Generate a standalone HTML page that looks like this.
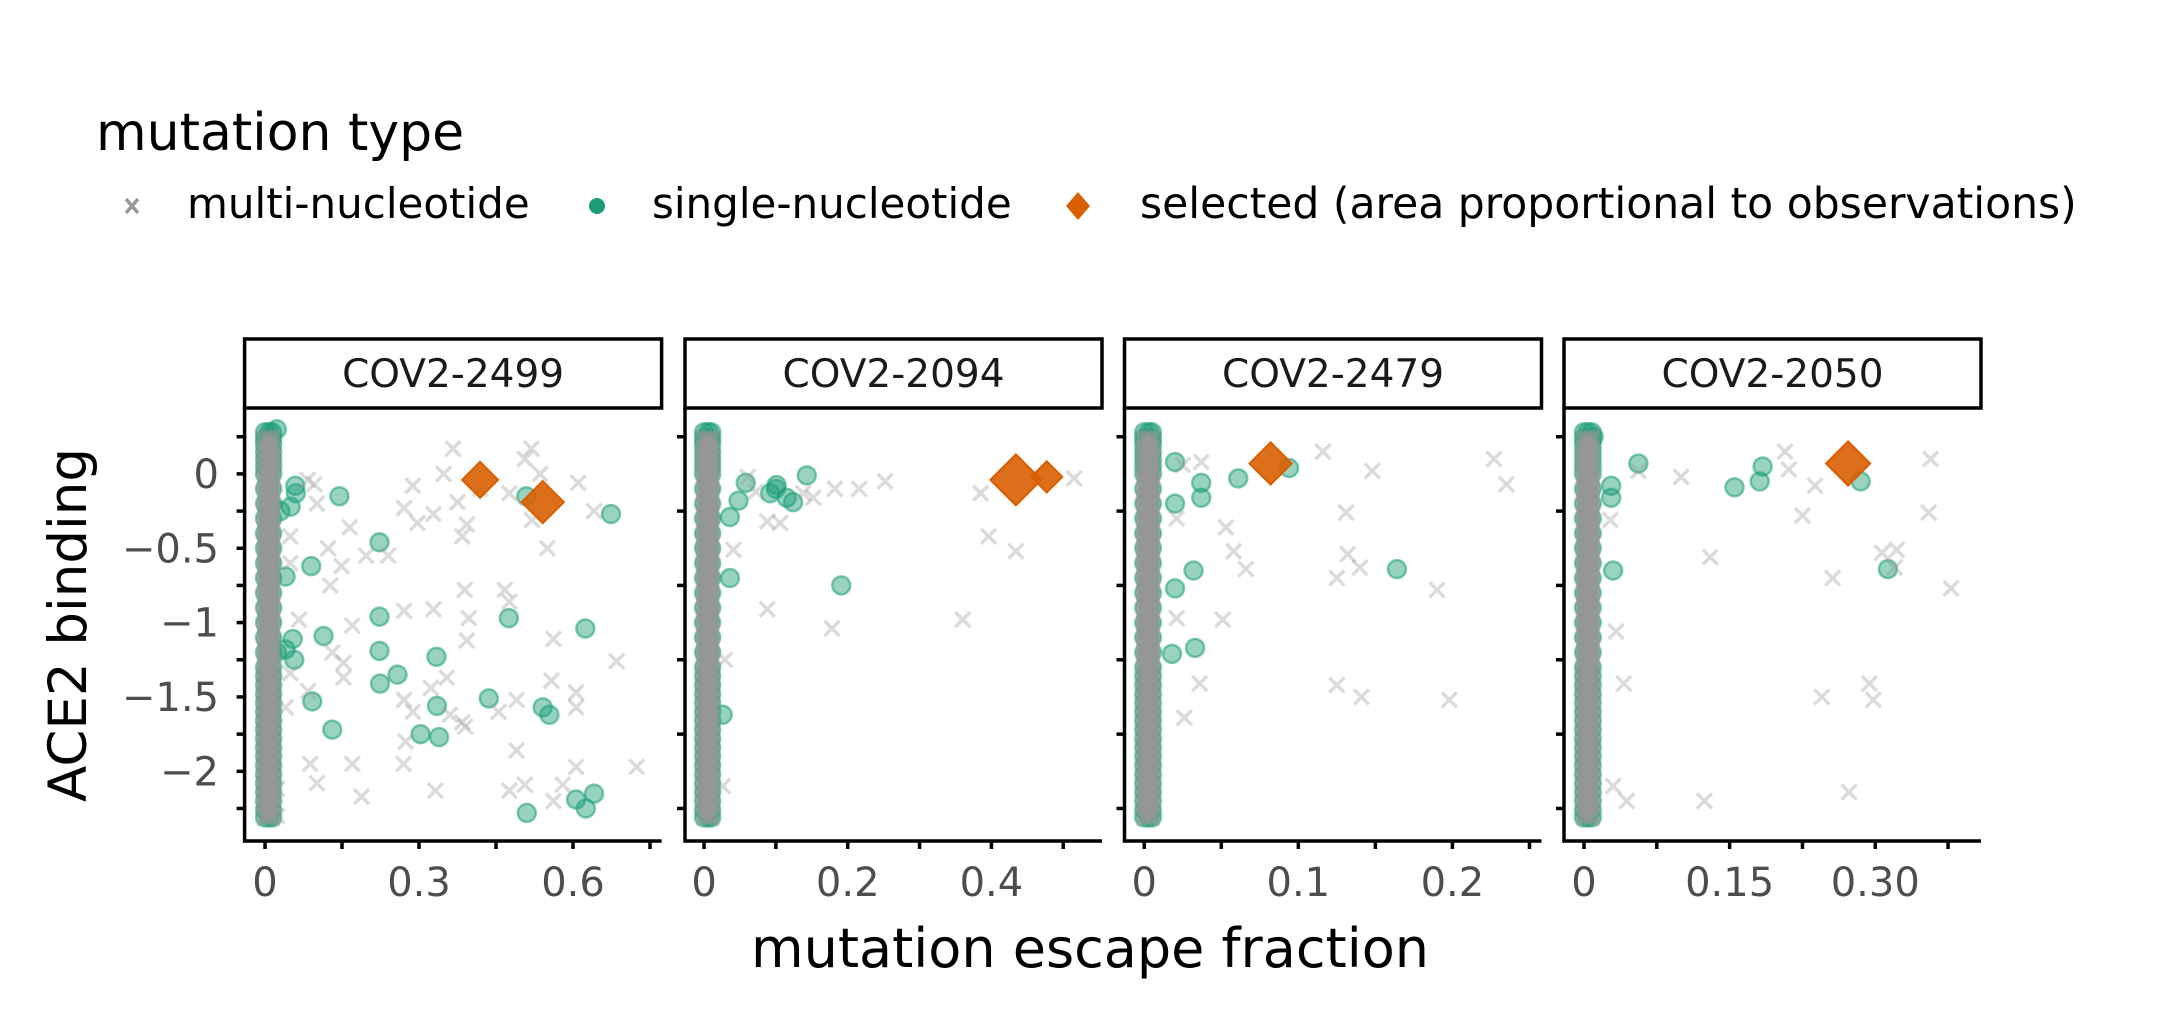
<!DOCTYPE html>
<html><head><meta charset="utf-8">
<style>
html,body{margin:0;padding:0;background:#fff;}
svg{display:block;font-family:"DejaVu Sans","Liberation Sans",sans-serif;}
</style></head>
<body>
<svg id="chart" width="2169" height="1014" viewBox="0 0 2169 1014" xmlns="http://www.w3.org/2000/svg">
  <rect width="2169" height="1014" fill="#fff"/>
  <g>
    <text x="96" y="150" font-size="52" fill="#000">mutation type</text>
    <g>
      <path d="M126,199 L138,213 M138,199 L126,213" stroke="#999" stroke-width="3.5"/>
      <text x="187" y="218" font-size="42">multi-nucleotide</text>
    </g>
    <g>
      <circle cx="597" cy="206" r="8" fill="#1b9e77"/>
      <text x="652" y="218" font-size="42">single-nucleotide</text>
    </g>
    <g>
      <path d="M1078,192 L1090,206 L1078,220 L1066,206 Z" fill="#d95f02"/>
      <text x="1140" y="218" font-size="42.5">selected (area proportional to observations)</text>
    </g>
  </g>
  <text transform="translate(86,625) rotate(-90)" text-anchor="middle" font-size="53">ACE2 binding</text>
  <text x="1090" y="967" text-anchor="middle" font-size="54">mutation escape fraction</text>
  <g id="panels"></g>
</svg>
<script>
// ---- data ----
const panelNames = ["COV2-2499","COV2-2094","COV2-2479","COV2-2050"];
const xMajorTicks = [[0,0.3,0.6],[0,0.2,0.4],[0,0.1,0.2],[0,0.15,0.30]];
const xMajorLabels = [["0","0.3","0.6"],["0","0.2","0.4"],["0","0.1","0.2"],["0","0.15","0.30"]];
const xMinorTicks = [[0.15,0.45,0.75],[0.1,0.3,0.5],[0.05,0.15,0.25],[0.075,0.225,0.375]];
const xDomains = [[-0.0398,0.7726],[-0.0265,0.5539],[-0.0128,0.2578],[-0.0206,0.4089]];
const yTickVals = [0,-0.5,-1,-1.5,-2];
const yTickLabels = ["0","\u22120.5","\u22121","\u22121.5","\u22122"];
const yMinor1 = [0.25,-0.25,-0.75,-1.25,-1.75,-2.25];

// column (near zero escape) binding values
const colYGray = [0.25,0.22,0.19,0.16,0.13,0.1,0.07,0.04,0.01,-0.02,-0.05,-0.08,-0.11,-0.14,-0.17,-0.2,-0.23,-0.26,-0.29,-0.32,-0.35,-0.38,-0.41,-0.44,-0.47,-0.5,-0.53,-0.56,-0.59,-0.62,-0.65,-0.68,-0.71,-0.74,-0.77,-0.8,-0.83,-0.86,-0.89,-0.92,-0.95,-0.98,-1.01,-1.04,-1.07,-1.1,-1.13,-1.16,-1.19,-1.22,-1.25,-1.28,-1.31,-1.34,-1.37,-1.4,-1.43,-1.46,-1.49,-1.52,-1.55,-1.58,-1.61,-1.64,-1.67,-1.7,-1.73,-1.76,-1.79,-1.82,-1.85,-1.88,-1.91,-1.94,-1.97,-2.0,-2.03,-2.06,-2.09,-2.12,-2.15,-2.18,-2.21,-2.24,-2.27,-2.3];
const colYGreen = [0.28,0.24,0.2,0.15,0.1,0.05,0,-0.1,-0.2,-0.3,-0.4,-0.5,-0.6,-0.7,-0.8,-0.9,-1.0,-1.1,-1.2,-1.3,-1.36,-1.42,-1.48,-1.54,-1.6,-1.66,-1.72,-1.78,-1.84,-1.9,-1.96,-2.02,-2.08,-2.14,-2.2,-2.26,-2.31];
const colX = [[0,0.008,0.014],[0,0.006,0.010],[0,0.003,0.005],[0,0.004,0.008]];

const crossX = [
 [0.366,0.519,0.506,0.348,0.419,0.536,0.61,0.476,0.288,0.271,0.328,0.375,0.393,0.297,0.52,0.641,0.55,0.384,0.096,0.083,0.101,0.165,0.123,0.049,0.197,0.24,0.149,0.127,0.049,0.389,0.467,0.476,0.328,0.271,0.397,0.17,0.066,0.393,0.562,0.685,0.153,0.131,0.049,0.153,0.323,0.354,0.271,0.558,0.606,0.606,0.49,0.455,0.384,0.288,0.04,0.084,0.39,0.36,0.274,0.49,0.17,0.088,0.27,0.101,0.188,0.332,0.476,0.506,0.606,0.58,0.724,0.562,0.023,0.023],
 [0.061,0.072,0.088,0.106,0.041,0.088,0.178,0.36,0.385,0.396,0.434,0.515,0.252,0.216,0.182,0.152,0.138,0.029,0.026],
 [0.116,0.148,0.227,0.235,0.131,0.053,0.058,0.066,0.132,0.14,0.125,0.19,0.051,0.036,0.125,0.141,0.198,0.026,0.025,0.037,0.021,0.021],
 [0.207,0.211,0.1,0.238,0.225,0.357,0.355,0.13,0.256,0.307,0.322,0.32,0.378,0.294,0.245,0.298,0.273,0.124,0.041,0.033,0.03,0.044,0.027,0.056]
];
const crossY = [
 [0.17,0.17,0.10,0.0,-0.10,0.0,-0.06,-0.13,-0.08,-0.23,-0.27,-0.19,-0.34,-0.33,-0.31,-0.25,-0.50,-0.42,-0.07,-0.04,-0.20,-0.36,-0.50,-0.42,-0.55,-0.55,-0.62,-0.75,-0.60,-0.78,-0.78,-0.86,-0.91,-0.92,-0.97,-1.02,-0.98,-1.12,-1.11,-1.26,-1.27,-1.2,-1.34,-1.37,-1.44,-1.37,-1.52,-1.39,-1.47,-1.57,-1.52,-1.6,-1.67,-1.6,-1.57,-1.46,-1.7,-1.62,-1.8,-1.86,-1.95,-1.95,-1.95,-2.08,-2.17,-2.13,-2.13,-2.09,-1.97,-2.09,-1.97,-2.2,-2.3,-2.12],
 [-0.02,-0.12,-0.32,-0.33,-0.51,-0.91,-1.04,-0.98,-0.13,-0.42,-0.52,-0.03,-0.05,-0.1,-0.1,-0.16,-0.13,-1.25,-2.1],
 [0.15,0.02,0.10,-0.07,-0.26,-0.36,-0.52,-0.64,-0.54,-0.63,-0.7,-0.78,-0.98,-1.41,-1.42,-1.5,-1.52,-1.64,0.06,0.08,-0.3,-0.97],
 [0.15,0.03,-0.02,-0.08,-0.28,0.10,-0.26,-0.56,-0.7,-0.53,-0.51,-0.63,-0.77,-1.41,-1.5,-1.52,-2.14,-2.2,-1.41,-1.06,-2.1,-2.2,-0.31,0.02]
];
const circX = [
 [0.023,0.059,0.06,0.05,0.03,0.145,0.223,0.09,0.04,0.223,0.475,0.624,0.674,0.509,0.054,0.114,0.023,0.04,0.057,0.223,0.334,0.258,0.224,0.092,0.335,0.436,0.541,0.554,0.131,0.303,0.339,0.51,0.606,0.625,0.641],
 [0.143,0.101,0.092,0.115,0.124,0.1,0.058,0.048,0.036,0.036,0.191,0.026],
 [0.094,0.061,0.037,0.037,0.032,0.164,0.033,0.018,0.02,0.02,0.02],
 [0.056,0.155,0.181,0.184,0.285,0.313,0.028,0.028,0.03,0.01]
];
const circY = [
 [0.30,-0.08,-0.13,-0.22,-0.25,-0.15,-0.46,-0.62,-0.69,-0.96,-0.97,-1.04,-0.27,-0.15,-1.11,-1.09,-1.2,-1.18,-1.25,-1.19,-1.23,-1.35,-1.41,-1.53,-1.56,-1.51,-1.57,-1.62,-1.72,-1.75,-1.77,-2.28,-2.19,-2.25,-2.15],
 [-0.01,-0.075,-0.13,-0.16,-0.19,-0.1,-0.06,-0.18,-0.29,-0.70,-0.75,-1.62],
 [0.04,-0.03,-0.06,-0.16,-0.65,-0.64,-1.17,-1.21,-0.77,0.08,-0.2],
 [0.07,-0.09,-0.05,0.05,-0.05,-0.64,-0.08,-0.16,-0.65,0.25]
];
const selX = [[0.419,0.541],[0.434,0.477],[0.082],[0.272]];
const selY = [[-0.04,-0.19],[-0.04,-0.02],[0.07],[0.07]];
const selObs = [[4,5.5],[8,3],[5.5],[6]];

// ---- layout ----
const panelLeft = [244.6,685,1124.5,1564];
const panelW = 417, plotTop = 408, plotBottom = 841, stripTop = 339;
const yScale = v => 473.9 - v*148.7;
const NS = "http://www.w3.org/2000/svg";
const root = document.getElementById('panels');
function mk(tag, attrs, parent){
  const e = document.createElementNS(NS, tag);
  for (const k in attrs) e.setAttribute(k, attrs[k]);
  parent.appendChild(e); return e;
}
panelNames.forEach((name, p) => {
  const L = panelLeft[p], R = L + panelW;
  const [d0, d1] = xDomains[p];
  const xs = v => L + (v - d0) / (d1 - d0) * panelW;
  const g = mk('g', {}, root);
  
  
  const strip = mk('rect', {x:L, y:stripTop, width:panelW, height:plotTop-stripTop, fill:'#fff', stroke:'#000', 'stroke-width':3.5}, g);
  
  
  const st = mk('text', {x:L+panelW/2, y:387, 'text-anchor':'middle', 'font-size':39, fill:'#1a1a1a'}, g);
  st.textContent = name;
  
  
  const marks = mk('g', {}, g);
  
  
  function circle(x, y){
    const c = mk('circle', {cx:xs(x), cy:yScale(y), r:9, fill:'rgba(27,158,119,0.45)', stroke:'rgba(27,158,119,0.55)', 'stroke-width':2.5}, marks);
    
    
  }
  function cross(x, y){
    const cx = xs(x), cy = yScale(y), s = 7.5;
    const c = mk('path', {d:`M${cx-s},${cy-s}L${cx+s},${cy+s}M${cx+s},${cy-s}L${cx-s},${cy+s}`, stroke:'rgba(153,153,153,0.35)', 'stroke-width':3.5, fill:'none'}, marks);
    
    
  }
  colYGreen.forEach(y => colX[p].forEach(x => circle(x, y)));
  circX[p].forEach((x, i) => circle(x, circY[p][i]));
  colYGray.forEach(y => colX[p].forEach(x => { cross(x, y); cross(x, y - 0.015); }));
  crossX[p].forEach((x, i) => cross(x, crossY[p][i]));
  selX[p].forEach((x, i) => {
    const cx = xs(x), cy = yScale(selY[p][i]), h = 9 * Math.sqrt(selObs[p][i]);
    const d = mk('path', {d:`M${cx},${cy-h}L${cx+h},${cy}L${cx},${cy+h}L${cx-h},${cy}Z`, fill:'rgba(217,95,2,0.9)', stroke:'#d95f02', 'stroke-width':2}, marks);
    
    
  });
  const ax = mk('path', {d:`M${L},${plotTop}L${L},${plotBottom}L${R},${plotBottom}`, stroke:'#000', 'stroke-width':3.5, fill:'none'}, g);
  
  
  const yt = (p === 0) ? yMinor1.concat(yTickVals) : yMinor1;
  yt.forEach(v => {
    const t = mk('line', {x1:L-8, x2:L, y1:yScale(v), y2:yScale(v), stroke:'#000', 'stroke-width':3.5}, g);
    
    
  });
  if (p === 0) {
    yTickVals.forEach((v, i) => {
      const t = mk('text', {x:219, y:yScale(v)+14, 'text-anchor':'end', 'font-size':40, fill:'#4d4d4d'}, g);
      t.textContent = yTickLabels[i];
      
      
    });
  }
  xMajorTicks[p].concat(xMinorTicks[p]).forEach(v => {
    const t = mk('line', {x1:xs(v), x2:xs(v), y1:plotBottom, y2:plotBottom+8, stroke:'#000', 'stroke-width':3.5}, g);
    
    
  });
  xMajorTicks[p].forEach((v, i) => {
    const t = mk('text', {x:xs(v), y:896, 'text-anchor':'middle', 'font-size':40, fill:'#4d4d4d'}, g);
    t.textContent = xMajorLabels[p][i];
    
    
  });
});
</script>
</body></html>
